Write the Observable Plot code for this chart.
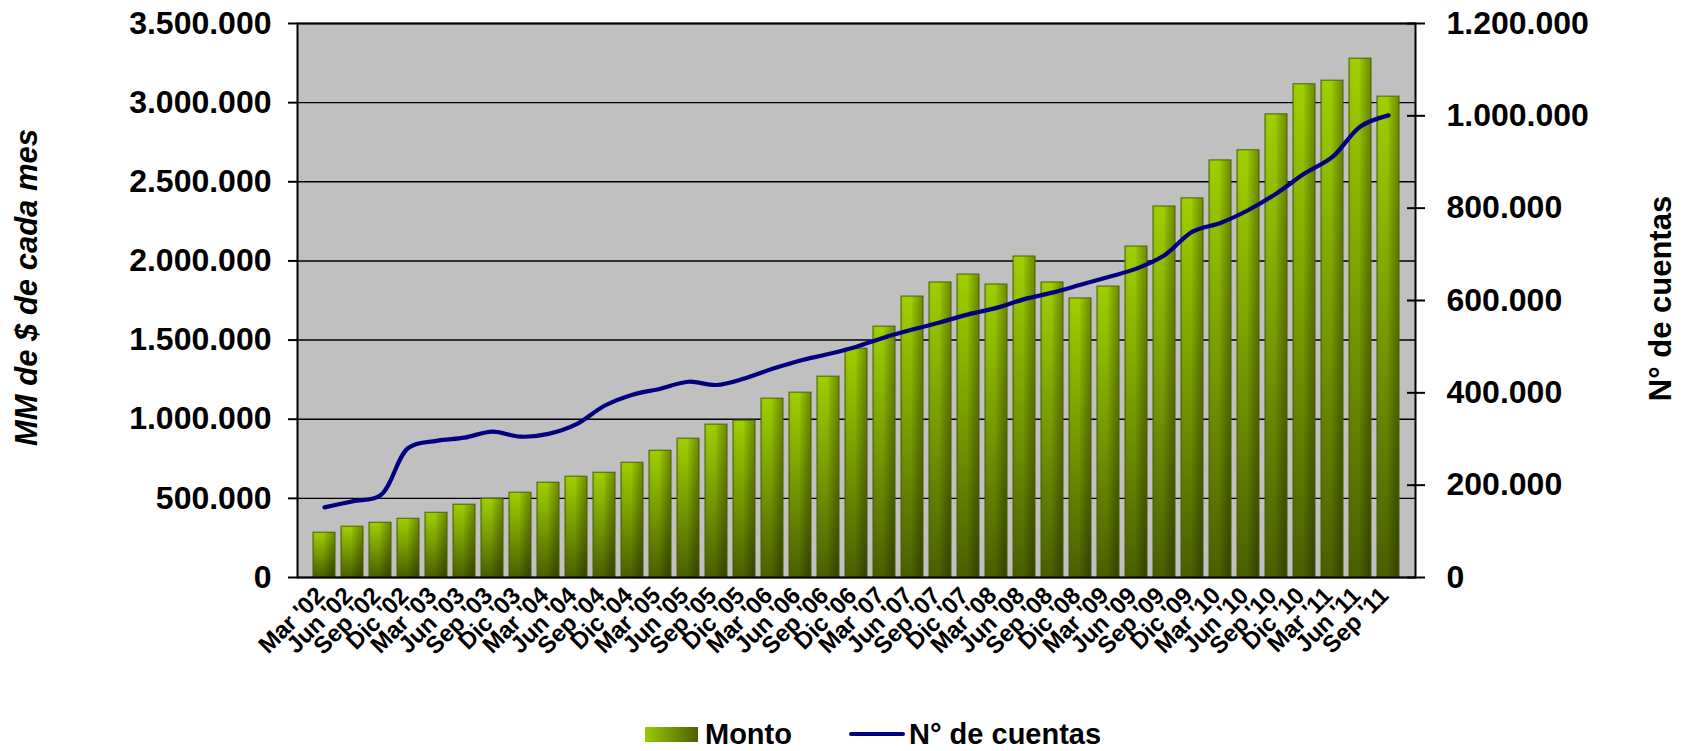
<!DOCTYPE html>
<html><head><meta charset="utf-8">
<script src="https://cdn.jsdelivr.net/npm/d3@7"></script>
<script src="https://cdn.jsdelivr.net/npm/@observablehq/plot@0.6"></script>
<style>
body{margin:0;background:#fff;font-family:"Liberation Sans",Arial,sans-serif;color:#000;}
#wrap{position:relative;width:1685px;height:751px;overflow:hidden;}
.leg{position:absolute;top:718px;height:32px;display:flex;align-items:center;font-weight:bold;font-size:29px;line-height:32px;white-space:nowrap;}
.sw{display:inline-block;}
</style></head><body>
<div id="wrap"><div id="chart"></div><div id="legend"></div></div>
<script>
const categories = ["Mar '02","Jun '02","Sep '02","Dic '02","Mar '03","Jun '03","Sep '03","Dic '03","Mar '04","Jun '04","Sep '04","Dic '04","Mar '05","Jun '05","Sep '05","Dic '05","Mar '06","Jun '06","Sep '06","Dic '06","Mar '07","Jun '07","Sep '07","Dic '07","Mar '08","Jun '08","Sep '08","Dic '08","Mar '09","Jun '09","Sep '09","Dic '09","Mar '10","Jun '10","Sep '10","Dic '10","Mar '11","Jun '11","Sep '11"];
const monto = [283000,321000,346000,371000,409000,460000,498000,536000,599000,637000,662000,725000,801000,877000,966000,991000,1130000,1168000,1269000,1446000,1585000,1775000,1864000,1914000,1851000,2028000,1864000,1763000,1838000,2091000,2344000,2395000,2635000,2699000,2926000,3116000,3139000,3278000,3038000];
const cuentas = [152000,165000,178000,281000,296000,303000,316000,305000,311000,332000,372000,396000,409000,424000,417000,431000,452000,470000,484000,500000,520000,537000,553000,570000,584000,603000,617000,634000,651000,669000,698000,749000,768000,796000,832000,875000,911000,977000,1001000];
const leftTicks = [0,500000,1000000,1500000,2000000,2500000,3000000,3500000];
const rightTicks = [0,200000,400000,600000,800000,1000000,1200000];
const seriesNames = ["Monto","N° de cuentas"];
const leftTitle = "MM de $ de cada mes";
const rightTitle = "N° de cuentas";
const leftMax = 3500000, rightMax = 1200000;

const ratio = leftMax / rightMax;
const locale = d3.formatLocale({decimal: ",", thousands: ".", grouping: [3], currency: ["$", ""]});
const fmt = locale.format(",d");

const rows = categories.map((c, i) => ({cat: c, monto: monto[i], cuentas: cuentas[i], cuentasY: cuentas[i] * ratio}));
const rightPos = rightTicks.map(v => v * ratio);

const chart = Plot.plot({
  width: 1685,
  height: 700,
  marginLeft: 297,
  marginRight: 270,
  marginTop: 23,
  marginBottom: 123,
  style: {fontFamily: "'Liberation Sans', Arial, sans-serif", background: "transparent", color: "#000"},
  x: {type: "band", domain: categories, paddingInner: 0.2, paddingOuter: 0.1, label: null},
  y: {domain: [0, leftMax], label: null},
  marks: [
    Plot.frame({fill: "#c0c0c0", stroke: null}),
    Plot.gridY(leftTicks, {stroke: "#000", strokeOpacity: 1, strokeWidth: 1.4}),
    Plot.barY(rows, {x: "cat", y: "monto", fill: "url(#barV)"}),
    Plot.barY(rows, {x: "cat", y: "monto", fill: "url(#barH)", stroke: "#4a5f00", strokeWidth: 1}),
    Plot.line(rows, {x: "cat", y: "cuentasY", stroke: "#000080", strokeWidth: 4.2, curve: "catmull-rom"}),
    Plot.frame({stroke: "#000", strokeWidth: 2}),
    Plot.axisY(leftTicks, {anchor: "left", tickSize: 9, tickPadding: 17, strokeWidth: 2, tickFormat: fmt, fontSize: 32, fontWeight: "bold", label: null}),
    Plot.axisY(rightPos, {anchor: "right", tickSize: 18, dx: -9, tickPadding: 22, strokeWidth: 2, tickFormat: d => fmt(Math.round(d / ratio)), fontSize: 32, fontWeight: "bold", label: null}),
    Plot.axisX({tickSize: 0, tickPadding: 14, dx: -4, tickRotate: -45, textAnchor: "end", lineAnchor: "middle", fontSize: 24, fontWeight: "bold", label: null}),
    Plot.text([leftTitle], {frameAnchor: "left", dx: -270, dy: -13, rotate: -90, fontSize: 31, fontWeight: "bold", fontStyle: "italic", textAnchor: "middle", lineAnchor: "middle"}),
    Plot.text([rightTitle], {frameAnchor: "right", dx: 246, dy: -2, rotate: -90, fontSize: 31, fontWeight: "bold", textAnchor: "middle", lineAnchor: "middle"})
  ]
});

d3.select(chart).insert("defs", ":first-child").html(`
  <linearGradient id="barV" x1="0" y1="0" x2="0" y2="1">
    <stop offset="0" stop-color="#9fd000"/>
    <stop offset="0.45" stop-color="#7a9f00"/>
    <stop offset="1" stop-color="#4a5f00"/>
  </linearGradient>
  <linearGradient id="barH" x1="0" y1="0" x2="1" y2="0">
    <stop offset="0" stop-color="#000" stop-opacity="0.06"/>
    <stop offset="0.15" stop-color="#000" stop-opacity="0"/>
    <stop offset="0.45" stop-color="#000" stop-opacity="0"/>
    <stop offset="0.6" stop-color="#000" stop-opacity="0.1"/>
    <stop offset="0.8" stop-color="#000" stop-opacity="0.22"/>
    <stop offset="1" stop-color="#000" stop-opacity="0.32"/>
  </linearGradient>`);
document.getElementById("chart").appendChild(chart);

const legend = document.getElementById("legend");
const legPos = [645, 849];
seriesNames.forEach((name, i) => {
  const item = document.createElement("div");
  item.className = "leg";
  item.style.left = legPos[i] + "px";
  const sw = document.createElement("span");
  sw.className = "sw";
  if (i === 0) {
    sw.style.cssText = "width:53px;height:15px;margin-right:7px;background:linear-gradient(to right,#99cc00,#4d6000);";
  } else {
    sw.style.cssText = "width:56px;height:4px;margin-right:4px;background:#000080;border-radius:2px;";
  }
  item.appendChild(sw);
  item.appendChild(document.createTextNode(name));
  legend.appendChild(item);
});
</script>
</body></html>
